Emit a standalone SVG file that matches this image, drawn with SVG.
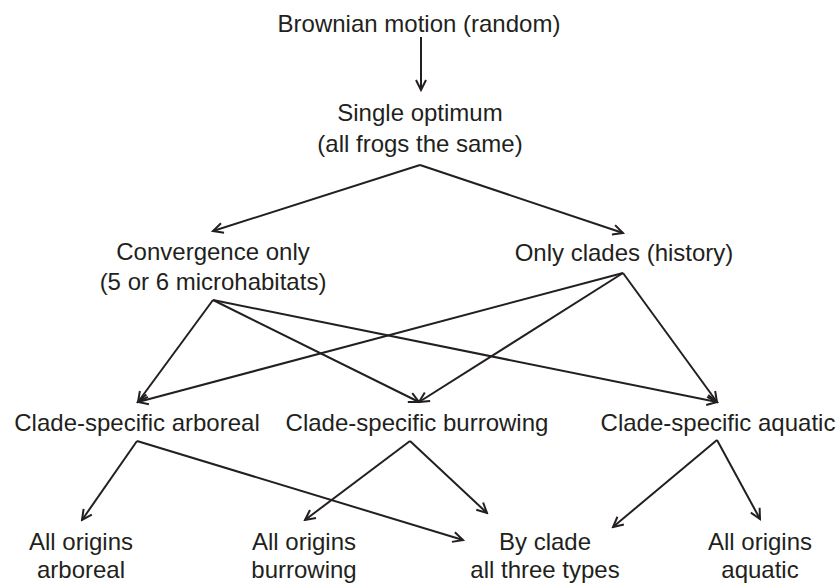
<svg xmlns="http://www.w3.org/2000/svg" width="838" height="584" viewBox="0 0 838 584">
<style>
text{font-family:"Liberation Sans",Arial,sans-serif;font-size:24px;fill:#231f20;text-anchor:middle}
.c line{stroke:#231f20;stroke-width:2;marker-end:url(#a)}
</style>
<defs>
<marker id="a" markerUnits="userSpaceOnUse" viewBox="-12 -7 14 14" refX="0" refY="0" markerWidth="14" markerHeight="14" orient="auto">
<path d="M-10,-5 L0,0 L-10,5" fill="none" stroke="#231f20" stroke-width="2"/>
</marker>
</defs>
<rect width="838" height="584" fill="#fff"/>
<g id="brownian"><text x="419" y="32">Brownian motion (random)</text></g>
<g id="single"><text x="420" y="121">Single optimum</text><text x="420" y="152">(all frogs the same)</text></g>
<g id="convergence"><text x="213" y="260">Convergence only</text><text x="213" y="290">(5 or 6 microhabitats)</text></g>
<g id="clades"><text x="624" y="261">Only clades (history)</text></g>
<g id="cs-arboreal"><text x="137" y="431">Clade-specific arboreal</text></g>
<g id="cs-burrowing"><text x="417" y="431">Clade-specific burrowing</text></g>
<g id="cs-aquatic"><text x="718" y="431">Clade-specific aquatic</text></g>
<g id="all-arboreal"><text x="81" y="550">All origins</text><text x="81" y="578">arboreal</text></g>
<g id="all-burrowing"><text x="304" y="550">All origins</text><text x="304" y="578">burrowing</text></g>
<g id="by-clade"><text x="545" y="550">By clade</text><text x="545" y="578">all three types</text></g>
<g id="all-aquatic"><text x="760" y="550">All origins</text><text x="760" y="578">aquatic</text></g>
<g class="c" id="connectors">
<line x1="421" y1="37" x2="421" y2="90"/>
<line x1="420" y1="165" x2="213" y2="231"/>
<line x1="420" y1="165" x2="623" y2="233"/>
<line x1="213" y1="300" x2="138" y2="402"/>
<line x1="213" y1="300" x2="419" y2="402"/>
<line x1="213" y1="300" x2="717" y2="402"/>
<line x1="623" y1="273" x2="138" y2="402"/>
<line x1="623" y1="273" x2="419" y2="402"/>
<line x1="623" y1="273" x2="717" y2="402"/>
<line x1="137" y1="441" x2="82" y2="520"/>
<line x1="137" y1="441" x2="463" y2="540"/>
<line x1="410" y1="441" x2="305" y2="520"/>
<line x1="410" y1="441" x2="487" y2="513"/>
<line x1="717" y1="440" x2="613" y2="527"/>
<line x1="717" y1="440" x2="760" y2="519"/>
</g>
</svg>
